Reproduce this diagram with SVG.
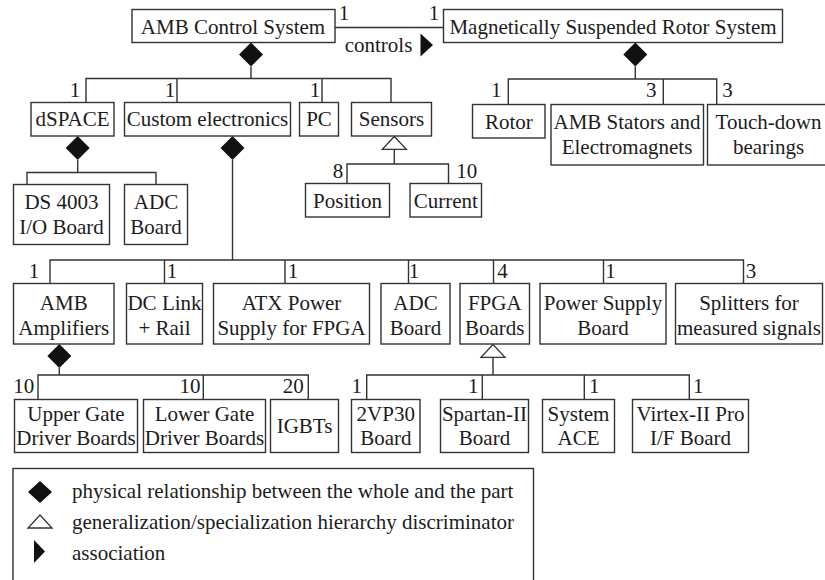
<svg xmlns="http://www.w3.org/2000/svg" width="825" height="580" viewBox="0 0 825 580">
<style>
.b{fill:#fff;stroke:#333;stroke-width:1.4}
text{font-family:"Liberation Serif","Times New Roman",serif;font-size:21px;fill:#1c1c1c}
.c{text-anchor:middle}
.ln{fill:none;stroke:#333;stroke-width:1.4}
.d{fill:#111}
.g{fill:#fff;stroke:#333;stroke-width:1.3}
</style>
<defs>
<polygon id="dia" points="0,0 12,12 0,24 -12,12"/>
<polygon id="gen" points="0,0 12,12.8 -12,12.8"/>
</defs>
<rect width="825" height="580" fill="#fff"/>

<g id="connectors">
<path class="ln" d="M335,27.5H443.5 M251,66.5V78.5 M86,102.5V78.5H391V102.5 M177,78.5V102.5 M322,78.5V102.5 M77.7,160V172.5 M27,184.5V172.5H156V184.5 M232.5,160V260 M50,283.5V260H743.5V283.5 M164.5,260V283.5 M285,260V283.5 M408.5,260V283.5 M493.5,260V283.5 M603.5,260V283.5 M394.3,149.3V164 M347,183.5V164H448.5V183.5 M635.3,66.5V79 M508.3,104.5V79H716.7V104.5 M663.3,79V104.5 M59.3,368V375 M38,399.5V375H308.3V399.5 M203.3,375V399.5 M493,357.3V375 M366.7,399.5V375H689.3V399.5 M482.3,375V399.5 M584.3,375V399.5"/>
<use href="#dia" class="d" x="251" y="42.5"/>
<use href="#dia" class="d" x="635.3" y="42.5"/>
<use href="#dia" class="d" x="77.7" y="136"/>
<use href="#dia" class="d" x="232.5" y="136"/>
<use href="#dia" class="d" x="59.3" y="344"/>
<use href="#gen" class="g" x="394.3" y="136.5"/>
<use href="#gen" class="g" x="493" y="344.5"/>
<polygon class="d" points="420.5,33.5 433,45 420.5,56.5"/>
<text class="c" x="378.5" y="51.5">controls</text>
<text class="c" x="344" y="20">1</text>
<text class="c" x="434" y="20">1</text>
<text class="c" x="75" y="96.5">1</text>
<text class="c" x="170" y="96.5">1</text>
<text class="c" x="315" y="96.5">1</text>
<text class="c" x="496.3" y="96.5">1</text>
<text class="c" x="651.3" y="96.5">3</text>
<text class="c" x="727.5" y="96.5">3</text>
<text class="c" x="338" y="178">8</text>
<text class="c" x="466.7" y="178">10</text>
<text class="c" x="34" y="278">1</text>
<text class="c" x="172" y="278">1</text>
<text class="c" x="293" y="278">1</text>
<text class="c" x="414" y="278">1</text>
<text class="c" x="502.5" y="278">4</text>
<text class="c" x="610.5" y="278">1</text>
<text class="c" x="751" y="278">3</text>
<text class="c" x="23.7" y="393">10</text>
<text class="c" x="190" y="393">10</text>
<text class="c" x="293.3" y="393">20</text>
<text class="c" x="356.7" y="393">1</text>
<text class="c" x="473.3" y="393">1</text>
<text class="c" x="594.3" y="393">1</text>
<text class="c" x="698.3" y="393">1</text>
</g>

<g id="amb-control-system"><rect class="b" x="132" y="9.5" width="203" height="33"/><text class="c" x="233" y="33.5">AMB Control System</text></g>
<g id="magnetically-suspended-rotor-system"><rect class="b" x="443.5" y="9.5" width="339" height="33"/><text class="c" x="613" y="33.5">Magnetically Suspended Rotor System</text></g>
<g id="dspace"><rect class="b" x="31" y="102.5" width="83" height="33.5"/><text class="c" x="72.5" y="126">dSPACE</text></g>
<g id="custom-electronics"><rect class="b" x="124.5" y="102.5" width="166" height="33.5"/><text class="c" x="207.5" y="126">Custom electronics</text></g>
<g id="pc"><rect class="b" x="299.5" y="102.5" width="39" height="33.5"/><text class="c" x="319" y="126">PC</text></g>
<g id="sensors"><rect class="b" x="351.5" y="102.5" width="80" height="33.5"/><text class="c" x="391.5" y="126">Sensors</text></g>
<g id="rotor"><rect class="b" x="472.5" y="104.5" width="72.5" height="33.5"/><text class="c" x="508.8" y="129">Rotor</text></g>
<g id="amb-stators"><rect class="b" x="551" y="104.5" width="152.5" height="60.5"/><text class="c" x="627" y="129">AMB Stators and</text><text class="c" x="627" y="154">Electromagnets</text></g>
<g id="touch-down-bearings"><rect class="b" x="707.5" y="104.5" width="122" height="60.5"/><text class="c" x="768.5" y="129">Touch-down</text><text class="c" x="768.5" y="154">bearings</text></g>
<g id="ds4003"><rect class="b" x="13.5" y="184.5" width="96" height="60"/><text class="c" x="61.5" y="209">DS 4003</text><text class="c" x="61.5" y="234">I/O Board</text></g>
<g id="adc-board-dspace"><rect class="b" x="124.5" y="184.5" width="63" height="60"/><text class="c" x="156" y="209">ADC</text><text class="c" x="156" y="234">Board</text></g>
<g id="position"><rect class="b" x="305.5" y="183.5" width="84" height="33.5"/><text class="c" x="347.5" y="208">Position</text></g>
<g id="current"><rect class="b" x="410" y="183.5" width="71.5" height="33.5"/><text class="c" x="445.8" y="208">Current</text></g>

<g id="amb-amplifiers"><rect class="b" x="13.5" y="283.5" width="100.5" height="60.5"/><text class="c" x="63.8" y="310">AMB</text><text class="c" x="63.8" y="334.5">Amplifiers</text></g>
<g id="dc-link"><rect class="b" x="126.5" y="283.5" width="76" height="60.5"/><text class="c" x="164.5" y="310">DC Link</text><text class="c" x="164.5" y="334.5">+ Rail</text></g>
<g id="atx-power"><rect class="b" x="213.5" y="283.5" width="156" height="60.5"/><text class="c" x="291.5" y="310">ATX Power</text><text class="c" x="291.5" y="334.5">Supply for FPGA</text></g>
<g id="adc-board-custom"><rect class="b" x="381" y="283.5" width="69" height="60.5"/><text class="c" x="415.5" y="310">ADC</text><text class="c" x="415.5" y="334.5">Board</text></g>
<g id="fpga-boards"><rect class="b" x="460" y="283.5" width="69.5" height="60.5"/><text class="c" x="494.8" y="310">FPGA</text><text class="c" x="494.8" y="334.5">Boards</text></g>
<g id="power-supply-board"><rect class="b" x="540" y="283.5" width="126" height="60.5"/><text class="c" x="603" y="310">Power Supply</text><text class="c" x="603" y="334.5">Board</text></g>
<g id="splitters"><rect class="b" x="675.5" y="283.5" width="147" height="60.5"/><text class="c" x="749" y="310">Splitters for</text><text class="c" x="749" y="334.5">measured signals</text></g>

<g id="upper-gate"><rect class="b" x="14.5" y="399.5" width="123" height="53"/><text class="c" x="76" y="420.5">Upper Gate</text><text class="c" x="76" y="444.5">Driver Boards</text></g>
<g id="lower-gate"><rect class="b" x="143.5" y="399.5" width="122" height="53"/><text class="c" x="204.5" y="420.5">Lower Gate</text><text class="c" x="204.5" y="444.5">Driver Boards</text></g>
<g id="igbts"><rect class="b" x="270.5" y="399.5" width="68" height="53"/><text class="c" x="304.5" y="432.5">IGBTs</text></g>
<g id="2vp30"><rect class="b" x="351.5" y="399.5" width="68.5" height="53"/><text class="c" x="385.8" y="420.5">2VP30</text><text class="c" x="385.8" y="444.5">Board</text></g>
<g id="spartan"><rect class="b" x="440.5" y="399.5" width="88" height="53"/><text class="c" x="484.5" y="420.5">Spartan-II</text><text class="c" x="484.5" y="444.5">Board</text></g>
<g id="system-ace"><rect class="b" x="542.5" y="399.5" width="72" height="53"/><text class="c" x="578.5" y="420.5">System</text><text class="c" x="578.5" y="444.5">ACE</text></g>
<g id="virtex"><rect class="b" x="632.5" y="399.5" width="116" height="53"/><text class="c" x="690.5" y="420.5">Virtex-II Pro</text><text class="c" x="690.5" y="444.5">I/F Board</text></g>

<g id="legend">
<rect class="b" x="13" y="468.5" width="520.5" height="130"/>
<polygon class="d" points="40,481 52,492 40,503 28,492"/>
<polygon class="g" points="40,515 52,528 28,528"/>
<polygon class="d" points="34,540 45,551.5 34,563"/>
<text x="72" y="498">physical relationship between the whole and the part</text>
<text x="72" y="529">generalization/specialization hierarchy discriminator</text>
<text x="72" y="560">association</text>
</g>
</svg>
